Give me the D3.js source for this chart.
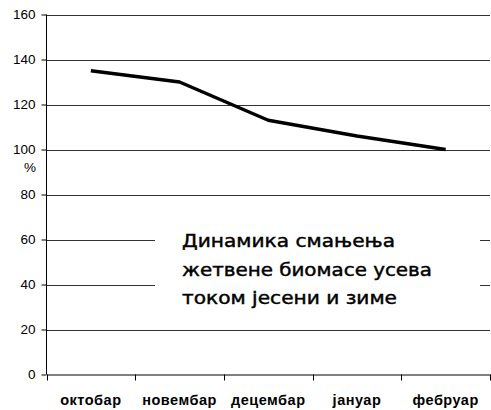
<!DOCTYPE html>
<html><head><meta charset="utf-8">
<script src="https://cdn.jsdelivr.net/npm/d3@7"></script>
<style>body{margin:0;background:#fff}svg{display:block}</style>
</head><body>
<script>
const categories = ["октобар","новембар","децембар","јануар","фебруар"];
const values = [135, 130, 113, 106, 100];
const yTicks = [0,20,40,60,80,100,120,140,160];
const titleLines = ["Динамика смањења","жетвене биомасе усева","током јесени и зиме"];
const yUnit = "%";

const W = 491, H = 410;
const svg = d3.select("body").append("svg").attr("width", W).attr("height", H);
const x = d3.scaleBand().domain(categories).range([46.5, 490]).padding(0);
const y = d3.scaleLinear().domain([0,160]).range([374.5, 14.5]);

// gridlines
svg.append("g").selectAll("line").data(yTicks.filter(d=>d>0)).join("line")
  .attr("x1", 46.5).attr("x2", 490).attr("y1", d=>Math.round(y(d))+0.5).attr("y2", d=>Math.round(y(d))+0.5)
  .attr("stroke", "#333").attr("stroke-width", 1);

// y axis
const ya = svg.append("g").attr("transform","translate(46.5,0)")
  .call(d3.axisLeft(y).tickValues(yTicks).tickSize(5).tickPadding(6).tickFormat(d3.format("d")));
ya.select(".domain").attr("stroke","#000").attr("d", `M0,${y(160)}V${y(0)}`);
ya.selectAll(".tick line").attr("stroke","#000");
ya.selectAll("text").attr("font-family","Liberation Sans, Arial, sans-serif").attr("font-size",13.5).attr("fill","#000");
svg.append("text").attr("x", 30).attr("y", 172).attr("text-anchor","middle")
  .attr("font-family","Liberation Sans, Arial, sans-serif").attr("font-size",13.5).text(yUnit);

// x axis
const xa = svg.append("g").attr("transform",`translate(0,${y(0)})`)
  .call(d3.axisBottom(x).tickSize(0).tickPadding(20));
xa.select(".domain").attr("stroke","#000");
xa.selectAll("text").attr("font-family","Liberation Sans, Arial, sans-serif").attr("font-weight","bold")
  .attr("font-size",14.5).attr("letter-spacing","0.5").attr("fill","#000");
const bounds = categories.map(c=>x(c)).concat([x.range()[1]]);
xa.selectAll("line.b").data(bounds).join("line").attr("class","b")
  .attr("x1", d=>Math.round(d)+0.5).attr("x2", d=>Math.round(d)+0.5).attr("y1",0).attr("y2",6).attr("stroke","#000");

// line
const line = d3.line().x((d,i)=>x(categories[i]) + x.bandwidth()/2).y(d=>y(d));
svg.append("path").datum(values).attr("d", line).attr("fill","none")
  .attr("stroke","#000").attr("stroke-width",3.5).attr("stroke-linejoin","round");

// text box
svg.append("rect").attr("x",155).attr("y",220).attr("width",325).attr("height",95).attr("fill","#fff");
const widths = [213, 250, 215];
svg.append("g").selectAll("text").data(titleLines).join("text")
  .attr("x", 182).attr("y", (d,i)=>247 + i*28.5)
  .attr("font-family","DejaVu Sans, Verdana, sans-serif").attr("font-size",18)
  .attr("fill","#000").attr("stroke","#000").attr("stroke-width",0.45)
  .attr("textLength",(d,i)=>widths[i]).attr("lengthAdjust","spacingAndGlyphs")
  .text(d=>d);
</script>
</body></html>
